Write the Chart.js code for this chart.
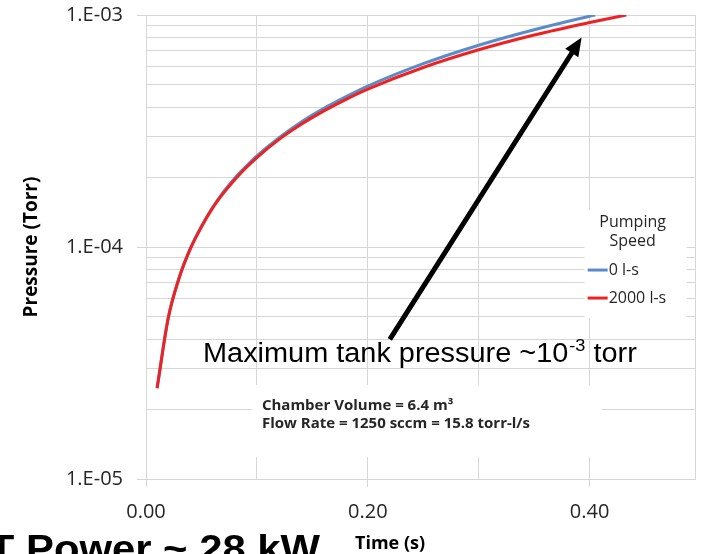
<!DOCTYPE html>
<html>
<head>
<meta charset="utf-8">
<script src="https://cdn.jsdelivr.net/npm/chart.js@4.4.1/dist/chart.umd.min.js"></script>
<style>
  html, body { margin: 0; padding: 0; background: #ffffff; }
  canvas { display: block; }
</style>
</head>
<body>
<canvas id="pressureChart" width="704" height="554"></canvas>
<script>
// Series (time in s, pressure in torr)
const seriesLabels = ['0 l-s', '2000 l-s'];
const legendTitle = ['Pumping', 'Speed'];

const timeNoPump = [0.01, 0.02, 0.03, 0.04, 0.05, 0.06, 0.07, 0.08, 0.09, 0.10, 0.12, 0.14, 0.16, 0.18, 0.20, 0.25, 0.30, 0.35, 0.40, 0.405];
const pressNoPump = [2.47e-5, 4.94e-5, 7.41e-5, 9.88e-5, 1.23e-4, 1.48e-4, 1.73e-4, 1.98e-4, 2.22e-4, 2.47e-4, 2.96e-4, 3.46e-4, 3.95e-4, 4.44e-4, 4.94e-4, 6.17e-4, 7.41e-4, 8.64e-4, 9.88e-4, 1.0e-3];

const timePump = [0.01, 0.02, 0.03, 0.04, 0.05, 0.06, 0.07, 0.08, 0.09, 0.10, 0.12, 0.14, 0.16, 0.18, 0.20, 0.25, 0.30, 0.35, 0.40, 0.433];
const pressPump = [2.46e-5, 4.92e-5, 7.37e-5, 9.81e-5, 1.22e-4, 1.47e-4, 1.71e-4, 1.95e-4, 2.19e-4, 2.43e-4, 2.91e-4, 3.38e-4, 3.85e-4, 4.32e-4, 4.79e-4, 5.94e-4, 7.08e-4, 8.20e-4, 9.28e-4, 1.0e-3];

const xTickValues = [0, 0.1, 0.2, 0.3, 0.4, 0.495];
const xLabelValues = [0, 0.2, 0.4];
const yDecades = [1e-5, 1e-4, 1e-3];

const colors = ['#5a8ccb', '#ee2222'];
const gridColor = '#d6d6d6';

// build log ticks 1..9 per decade
const yTickValues = [];
for (let d = 0; d < yDecades.length - 1; d++) {
  for (let m = 1; m < 10; m++) yTickValues.push(m * yDecades[d]);
}
yTickValues.push(yDecades[yDecades.length - 1]);

const isDecade = v => yDecades.some(d => Math.abs(v / d - 1) < 1e-6);
const isXLabel = v => xLabelValues.some(d => Math.abs(v - d) < 1e-6);

function stretchText(ctx, str, x, y, sx, align) {
  ctx.save();
  ctx.translate(x, y);
  ctx.scale(sx, 1);
  ctx.textAlign = align || 'left';
  ctx.fillText(str, 0, 0);
  ctx.restore();
}

// white boxes behind the notes and the legend (data coordinates)
const noteBox = { t0: 0.0955, t1: 0.4108, p0: 2.54e-5, p1: 1.245e-5 };
const legendBox = { t0: 0.3955, t1: 0.4874, p0: 1.443e-4, p1: 4.94e-5 };
const arrowFrom = { t: 0.2198, p: 4.0e-5 };
const arrowTo = { t: 0.3928, p: 8.0e-4 };
const mainNote = { t: 0.0514, p: 3.2e-5 };

const overlay = {
  id: 'overlay',
  beforeDatasetsDraw(chart) {
    const { ctx, scales: { x, y } } = chart;
    ctx.save();
    ctx.fillStyle = '#ffffff';
    [noteBox, legendBox].forEach(b => {
      const l = x.getPixelForValue(b.t0), r = x.getPixelForValue(b.t1);
      const t = y.getPixelForValue(b.p0), btm = y.getPixelForValue(b.p1);
      ctx.fillRect(l, t, r - l, btm - t);
    });
    ctx.restore();
  },
  afterDatasetsDraw(chart) {
    const { ctx, scales: { x, y } } = chart;
    ctx.save();

    // legend
    const lx = x.getPixelForValue(legendBox.t0);
    const ly = y.getPixelForValue(legendBox.p0);
    ctx.fillStyle = '#262626';
    ctx.font = '16px "Open Sans"';
    ctx.textBaseline = 'middle';
    ctx.textAlign = 'center';
    ctx.fillText(legendTitle[0], lx + 48, ly + 12);
    ctx.fillText(legendTitle[1], lx + 48, ly + 31);
    seriesLabels.forEach((lab, i) => {
      const yy = ly + 60 + i * 28;
      ctx.strokeStyle = colors[i];
      ctx.lineWidth = 3;
      ctx.beginPath();
      ctx.moveTo(lx + 3, yy);
      ctx.lineTo(lx + 23, yy);
      ctx.stroke();
      ctx.textAlign = 'left';
      ctx.fillText(lab, lx + 24, yy);
    });

    // notes
    const nx = x.getPixelForValue(noteBox.t0) + 10;
    const ny = y.getPixelForValue(noteBox.p0);
    ctx.font = 'bold 15px "Open Sans"';
    ctx.textBaseline = 'alphabetic';
    ctx.textAlign = 'left';
    ctx.fillText('Chamber Volume = 6.4 m\u00b3', nx, ny + 25);
    ctx.fillText('Flow Rate = 1250 sccm = 15.8 torr-l/s', nx, ny + 43);

    // arrow
    const ax = x.getPixelForValue(arrowFrom.t), ay = y.getPixelForValue(arrowFrom.p);
    const bx = x.getPixelForValue(arrowTo.t), by = y.getPixelForValue(arrowTo.p);
    const ang = Math.atan2(by - ay, bx - ax);
    const head = 20;
    ctx.strokeStyle = '#000000';
    ctx.fillStyle = '#000000';
    ctx.lineWidth = 5;
    ctx.beginPath();
    ctx.moveTo(ax, ay);
    ctx.lineTo(bx - Math.cos(ang) * head * 0.8, by - Math.sin(ang) * head * 0.8);
    ctx.stroke();
    ctx.beginPath();
    ctx.moveTo(bx, by);
    ctx.lineTo(bx - head * Math.cos(ang - 0.4), by - head * Math.sin(ang - 0.4));
    ctx.lineTo(bx - head * Math.cos(ang + 0.4), by - head * Math.sin(ang + 0.4));
    ctx.closePath();
    ctx.fill();

    // main note with superscript
    const sx = 1.07;
    let tx = x.getPixelForValue(mainNote.t);
    const tyy = y.getPixelForValue(mainNote.p);
    ctx.fillStyle = '#000000';
    ctx.font = '27px "Liberation Sans"';
    const part1 = 'Maximum tank pressure ~10';
    stretchText(ctx, part1, tx, tyy, sx);
    tx += ctx.measureText(part1).width * sx;
    ctx.font = '17px "Liberation Sans"';
    stretchText(ctx, '-3', tx + 1, tyy - 11, sx);
    tx += ctx.measureText('-3').width * sx + 1;
    ctx.font = '27px "Liberation Sans"';
    stretchText(ctx, ' torr', tx, tyy, sx);

    ctx.restore();
  },
  afterDraw(chart) {
    const { ctx, scales: { x } } = chart;

    // x tick labels, placed on the scale's own tick positions
    ctx.save();
    ctx.fillStyle = '#262626';
    ctx.font = '20px "Open Sans"';
    ctx.textAlign = 'center';
    ctx.textBaseline = 'middle';
    xLabelValues.forEach(v => ctx.fillText(v.toFixed(2), x.getPixelForValue(v), x.top + 33));
    ctx.restore();

    // axis titles
    ctx.save();
    ctx.fillStyle = '#000000';
    ctx.textBaseline = 'middle';
    ctx.font = 'bold 18px "Open Sans"';
    ctx.textAlign = 'center';
    ctx.fillText('Time (s)', 390, 544);
    ctx.translate(32, 247);
    ctx.rotate(-Math.PI / 2);
    ctx.font = 'bold 19px "Open Sans"';
    ctx.fillText('Pressure (Torr)', 0, 0);
    ctx.restore();

    // large caption cut by the bottom edge
    ctx.save();
    ctx.fillStyle = '#000000';
    ctx.font = 'bold 38px "Liberation Sans"';
    ctx.textBaseline = 'alphabetic';
    const capSx = 294 / ctx.measureText('Power ~ 28 kW').width;
    stretchText(ctx, 'T Power ~ 28 kW', 320, 562, capSx, 'right');
    ctx.restore();
  }
};

const canvas = document.getElementById('pressureChart');
new Chart(canvas.getContext('2d'), {
  type: 'line',
  data: {
    datasets: [
      {
        label: seriesLabels[0],
        data: timeNoPump.map((t, i) => ({ x: t, y: pressNoPump[i] })),
        borderColor: colors[0],
        borderWidth: 3,
        pointRadius: 0,
        cubicInterpolationMode: 'monotone',
        order: 1
      },
      {
        label: seriesLabels[1],
        data: timePump.map((t, i) => ({ x: t, y: pressPump[i] })),
        borderColor: colors[1],
        borderWidth: 3,
        pointRadius: 0,
        cubicInterpolationMode: 'monotone',
        order: 0
      }
    ]
  },
  options: {
    responsive: false,
    animation: false,
    layout: { padding: { top: 15, right: 9, left: 0, bottom: 0 } },
    plugins: {
      legend: { display: false },
      tooltip: { enabled: false }
    },
    scales: {
      x: {
        type: 'linear',
        min: 0,
        max: 0.495,
        afterBuildTicks: scale => { scale.ticks = xTickValues.map(v => ({ value: v })); },
        afterFit: scale => { scale.height = 75; scale.paddingLeft = 0; scale.paddingRight = 0; },
        ticks: { display: false },
        grid: {
          color: gridColor,
          lineWidth: 1,
          tickLength: 8,
          tickColor: c => (c.tick && isXLabel(c.tick.value)) ? gridColor : 'rgba(0,0,0,0)'
        },
        border: { color: gridColor }
      },
      y: {
        type: 'logarithmic',
        min: 1e-5,
        max: 1e-3,
        afterBuildTicks: scale => { scale.ticks = yTickValues.map(v => ({ value: v })); },
        afterFit: scale => { scale.width = 146; scale.paddingTop = 0; scale.paddingBottom = 0; },
        ticks: {
          autoSkip: false,
          padding: 14,
          color: '#262626',
          font: { family: '"Open Sans"', size: 20 },
          callback: v => isDecade(v) ? '1.E-0' + Math.round(-Math.log10(v)) : ''
        },
        grid: {
          color: gridColor,
          lineWidth: 1,
          tickLength: 9,
          tickColor: c => (c.tick && isDecade(c.tick.value)) ? gridColor : 'rgba(0,0,0,0)'
        },
        border: { color: gridColor }
      }
    }
  },
  plugins: [overlay]
});
</script>
</body>
</html>
